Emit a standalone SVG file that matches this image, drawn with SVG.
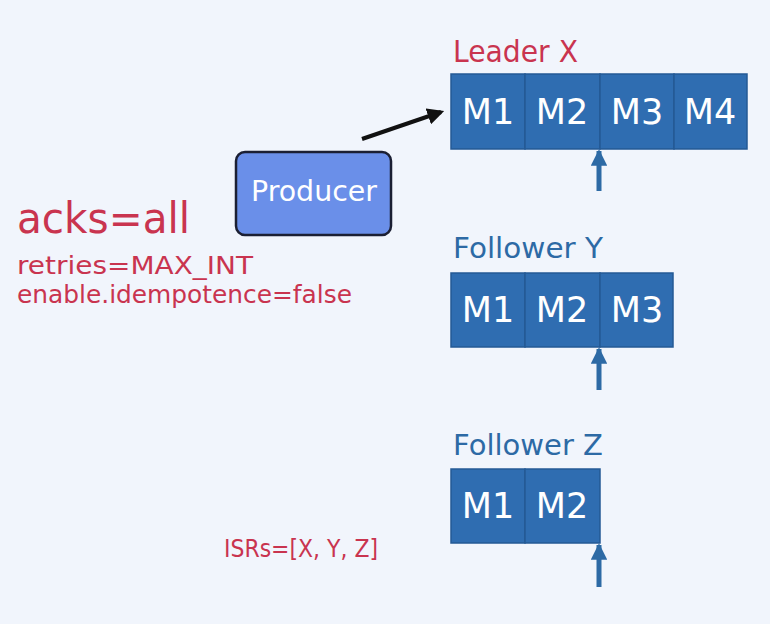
<svg xmlns="http://www.w3.org/2000/svg" width="770" height="624" viewBox="0 0 770 624">
<defs>
<style>
.t{font-family:"DejaVu Sans","Noto Sans",sans-serif;}
.red{fill:#c9344f;}
.blue{fill:#2d6aa5;}
.cell{fill:#2f6db1;stroke:#245a95;stroke-width:1.5;}
.m{fill:#ffffff;font-size:35px;text-anchor:middle;}
.up{stroke:#2d6aa5;stroke-width:5;fill:none;}
</style>
<marker id="ah" viewBox="0 0 10 10" refX="8" refY="5" markerWidth="4.2" markerHeight="4.2" orient="auto">
<path d="M0,0 L10,5 L0,10 z" fill="#111"/>
</marker>
<marker id="bh" viewBox="0 0 10 10" refX="9" refY="5" markerWidth="3.3" markerHeight="3.3" orient="auto">
<path d="M0,0 L10,5 L0,10 z" fill="#2d6aa5"/>
</marker>
</defs>
<rect width="770" height="624" fill="#f1f5fc"/>

<g id="config" class="t">
<text x="17" y="233" class="red" font-size="43" textLength="173" lengthAdjust="spacingAndGlyphs">acks=all</text>
<text x="17" y="274" class="red" font-size="25" textLength="236" lengthAdjust="spacingAndGlyphs">retries=MAX_INT</text>
<text x="17" y="303" class="red" font-size="25" textLength="335" lengthAdjust="spacingAndGlyphs">enable.idempotence=false</text>
<text x="224" y="557" class="red" font-size="24" textLength="154" lengthAdjust="spacingAndGlyphs">ISRs=[X, Y, Z]</text>
</g>

<g id="producer">
<rect x="236" y="152" width="155" height="83" rx="9" fill="#6a8fe9" stroke="#1b1f33" stroke-width="2.5"/>
<text x="314" y="201" class="t" font-size="28" fill="#ffffff" text-anchor="middle" textLength="126" lengthAdjust="spacingAndGlyphs">Producer</text>
</g>

<g id="leaderX" class="t">
<text x="453" y="62" class="red" font-size="30" textLength="125" lengthAdjust="spacingAndGlyphs">Leader X</text>
<rect class="cell" x="451" y="74" width="74" height="75"/>
<rect class="cell" x="525" y="74" width="75" height="75"/>
<rect class="cell" x="600" y="74" width="74" height="75"/>
<rect class="cell" x="674" y="74" width="73" height="75"/>
<text class="m" x="488" y="124">M1</text>
<text class="m" x="562" y="124">M2</text>
<text class="m" x="637" y="124">M3</text>
<text class="m" x="710" y="124">M4</text>
</g>

<g id="followerY" class="t">
<text x="453" y="258" class="blue" font-size="29" textLength="150" lengthAdjust="spacingAndGlyphs">Follower Y</text>
<rect class="cell" x="451" y="273" width="74" height="74"/>
<rect class="cell" x="525" y="273" width="75" height="74"/>
<rect class="cell" x="600" y="273" width="73" height="74"/>
<text class="m" x="488" y="322">M1</text>
<text class="m" x="562" y="322">M2</text>
<text class="m" x="637" y="322">M3</text>
</g>

<g id="followerZ" class="t">
<text x="453" y="455" class="blue" font-size="29" textLength="150" lengthAdjust="spacingAndGlyphs">Follower Z</text>
<rect class="cell" x="451" y="469" width="74" height="74"/>
<rect class="cell" x="525" y="469" width="75" height="74"/>
<text class="m" x="488" y="518">M1</text>
<text class="m" x="562" y="518">M2</text>
</g>

<g id="connectors">
<line x1="362" y1="139" x2="441" y2="112" stroke="#111" stroke-width="4" marker-end="url(#ah)"/>
<line class="up" x1="599" y1="191" x2="599" y2="151" marker-end="url(#bh)"/>
<line class="up" x1="599" y1="390" x2="599" y2="349" marker-end="url(#bh)"/>
<line class="up" x1="599" y1="587" x2="599" y2="545" marker-end="url(#bh)"/>
</g>
</svg>
